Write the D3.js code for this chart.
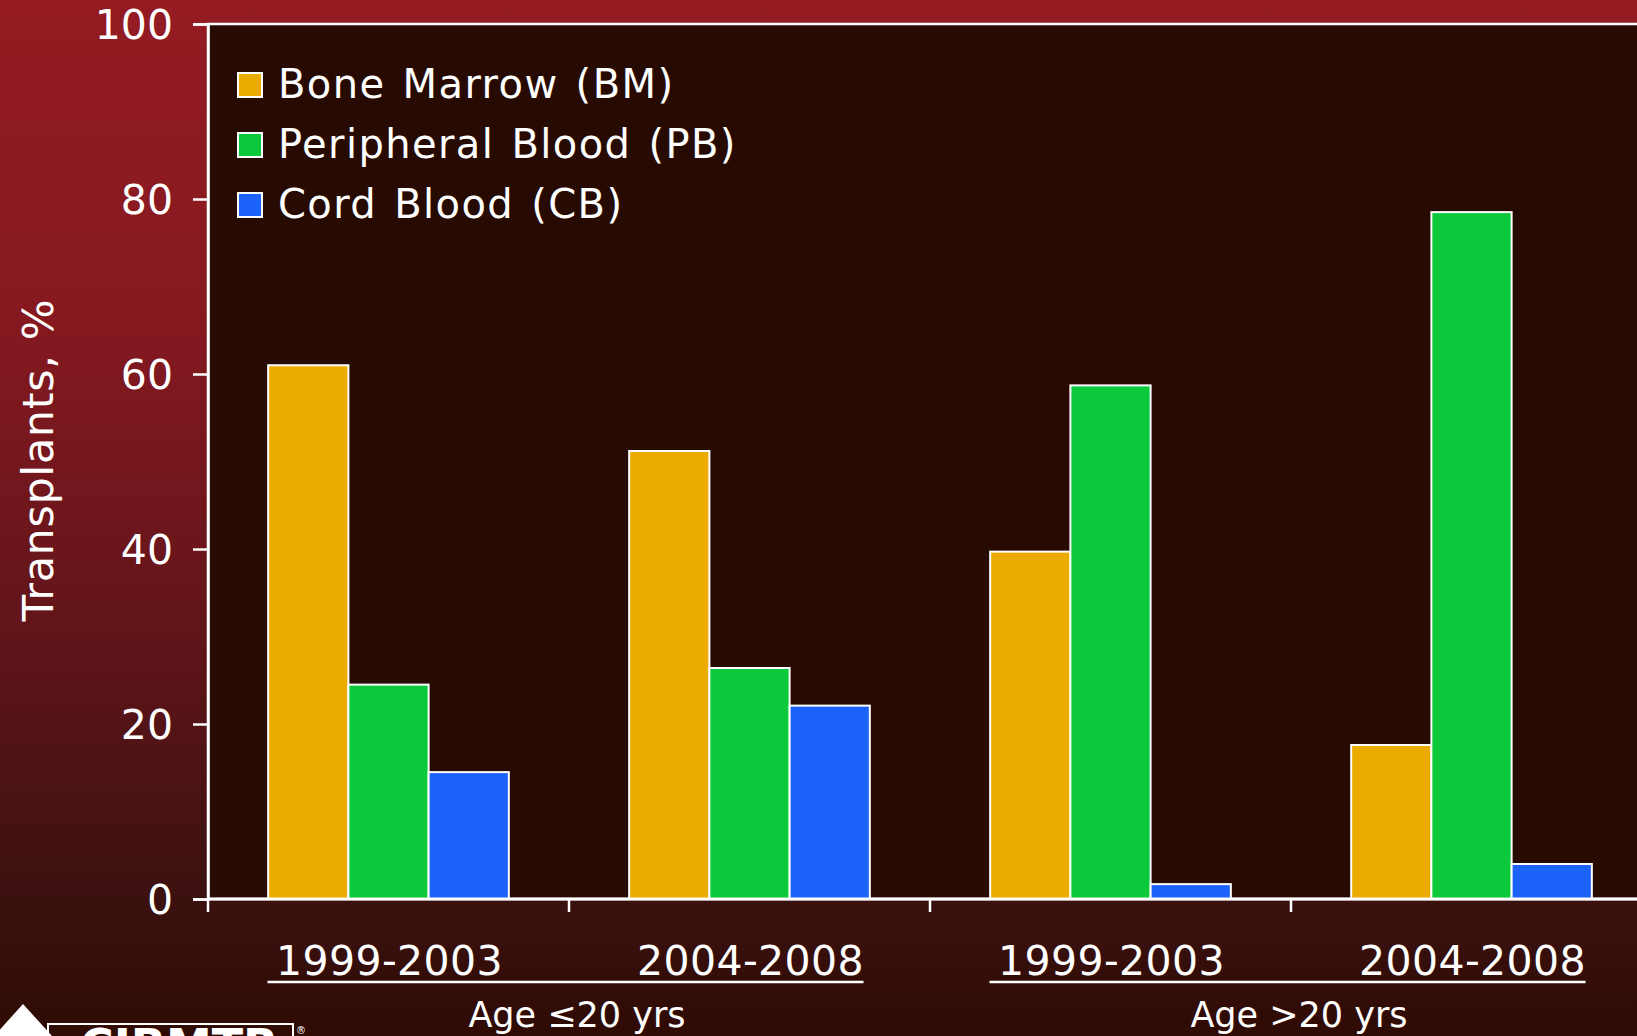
<!DOCTYPE html>
<html>
<head>
<meta charset="utf-8">
<script src="https://cdn.jsdelivr.net/npm/d3@7"></script>
<style>
  html, body { margin: 0; padding: 0; background: #2e0b04; }
  svg { display: block; font-family: "DejaVu Sans", Verdana, sans-serif; }
</style>
</head>
<body>
<div id="chart"></div>
<script>
// chart data
const periods = ["1999-2003", "2004-2008", "1999-2003", "2004-2008"];
const ageGroups = ["Age \u226420 yrs", "Age >20 yrs"];
const seriesNames = ["Bone Marrow (BM)", "Peripheral Blood (PB)", "Cord Blood (CB)"];
const bmValues = [61.0, 51.2, 39.7, 17.6];
const pbValues = [24.5, 26.4, 58.7, 78.5];
const cbValues = [14.5, 22.1, 1.7, 4.0];
const yTicks = [0, 20, 40, 60, 80, 100];

const colors = ["#ecab00", "#0bc93b", "#1b63fa"];

const width = 1637, height = 1036;
const margin = { left: 208, top: 24, bottom: 899 };
const bandW = 361;

const svg = d3.select("#chart").append("svg")
  .attr("width", width)
  .attr("height", height);

// background gradient
const defs = svg.append("defs");
const grad = defs.append("linearGradient")
  .attr("id", "bg").attr("x1", 0).attr("y1", 0).attr("x2", 0).attr("y2", 1);
[[0, "#941b22"], [0.3, "#861920"], [0.6, "#62151a"], [0.87, "#3b1110"], [1, "#2f0b04"]]
  .forEach(([o, c]) => grad.append("stop").attr("offset", o).attr("stop-color", c));

svg.append("rect").attr("width", width).attr("height", height).attr("fill", "url(#bg)");

const keys = periods.map((d, i) => i);
const x0 = d3.scaleBand().domain(keys).range([margin.left, margin.left + bandW * keys.length]);
const x1 = d3.scaleBand().domain([0, 1, 2]).range([bandW / 6, bandW * 5 / 6]);
const y = d3.scaleLinear().domain([0, 100]).range([margin.bottom, margin.top]);

// plot area
svg.append("rect")
  .attr("x", x0.range()[0]).attr("y", y(100))
  .attr("width", x0.range()[1] - x0.range()[0])
  .attr("height", y(0) - y(100))
  .attr("fill", "#270b02")
  .attr("stroke", "#fff").attr("stroke-width", 2.5);

// bars
const table = keys.map(i => [bmValues[i], pbValues[i], cbValues[i]]);
svg.append("g").selectAll("g")
  .data(table)
  .join("g")
  .attr("transform", (d, i) => `translate(${x0(i)},0)`)
  .selectAll("rect")
  .data(d => d)
  .join("rect")
  .attr("x", (d, j) => x1(j))
  .attr("width", x1.bandwidth())
  .attr("y", d => y(d))
  .attr("height", d => y(0) - y(d))
  .attr("fill", (d, j) => colors[j])
  .attr("stroke", "#fff")
  .attr("stroke-width", 2);

// y axis
const yAxis = svg.append("g")
  .attr("transform", `translate(${margin.left},0)`)
  .call(d3.axisLeft(y).tickValues(yTicks).tickSize(15).tickPadding(20));
yAxis.select(".domain").attr("stroke", "#fff").attr("stroke-width", 2.5);
yAxis.selectAll(".tick line").attr("stroke", "#fff").attr("stroke-width", 2.5);
yAxis.selectAll(".tick text")
  .attr("fill", "#fff")
  .attr("font-size", 41)
  .attr("font-family", "DejaVu Sans, Verdana, sans-serif")
  .attr("dy", "0.36em");

// x axis line + ticks
svg.append("line")
  .attr("x1", x0.range()[0]).attr("x2", x0.range()[1])
  .attr("y1", y(0)).attr("y2", y(0))
  .attr("stroke", "#fff").attr("stroke-width", 3);
svg.append("g").selectAll("line")
  .data(keys)
  .join("line")
  .attr("x1", d => x0(d)).attr("x2", d => x0(d))
  .attr("y1", y(0)).attr("y2", y(0) + 13)
  .attr("stroke", "#fff").attr("stroke-width", 2.5);

// period labels
svg.append("g").selectAll("text")
  .data(periods)
  .join("text")
  .attr("x", (d, i) => x0(i) + x0.bandwidth() / 2 + 1)
  .attr("y", 975)
  .attr("text-anchor", "middle")
  .attr("fill", "#fff")
  .attr("font-size", 41)
  .attr("letter-spacing", 0.4)
  .text(d => d);

// underline brackets and age group labels
ageGroups.forEach((g, k) => {
  const a = x0(2 * k) + x0.bandwidth() / 2;
  const b = x0(2 * k + 1) + x0.bandwidth() / 2;
  svg.append("line")
    .attr("x1", a - 121).attr("x2", b + 114)
    .attr("y1", 982).attr("y2", 982)
    .attr("stroke", "#fff").attr("stroke-width", 2.5);
  svg.append("text")
    .attr("x", (a + b) / 2 + 8)
    .attr("y", 1027)
    .attr("text-anchor", "middle")
    .attr("fill", "#fff")
    .attr("font-size", 35)
    .text(g);
});

// y title
svg.append("text")
  .attr("transform", "translate(53,460) rotate(-90)")
  .attr("text-anchor", "middle")
  .attr("fill", "#fff")
  .attr("font-size", 43)
  .attr("letter-spacing", 0.6)
  .text("Transplants, %");

// legend
const legend = svg.append("g").attr("transform", "translate(238,73)");
const li = legend.selectAll("g")
  .data(seriesNames)
  .join("g")
  .attr("transform", (d, i) => `translate(0,${i * 60})`);
li.append("rect")
  .attr("width", 24).attr("height", 24)
  .attr("fill", (d, i) => colors[i])
  .attr("stroke", "#fff").attr("stroke-width", 2);
li.append("text")
  .attr("x", 40).attr("y", 25)
  .attr("fill", "#fff")
  .attr("font-size", 40)
  .attr("letter-spacing", 1.4)
  .attr("word-spacing", 3)
  .text(d => d);

// logo fragment at bottom left
const logo = svg.append("g");
logo.append("path")
  .attr("d", "M23,1004 L52,1036 L-6,1036 Z")
  .attr("fill", "#fff");
logo.append("rect")
  .attr("x", 48).attr("y", 1024).attr("width", 245).attr("height", 30)
  .attr("fill", "none").attr("stroke", "#fff").attr("stroke-width", 2);
logo.append("text")
  .attr("x", 80).attr("y", 1062)
  .attr("fill", "#fff").attr("font-size", 46).attr("font-weight", "bold")
  .text("CIBMTR");
logo.append("text")
  .attr("x", 296).attr("y", 1034)
  .attr("fill", "#fff").attr("font-size", 10)
  .text("\u00ae");
</script>
</body>
</html>
